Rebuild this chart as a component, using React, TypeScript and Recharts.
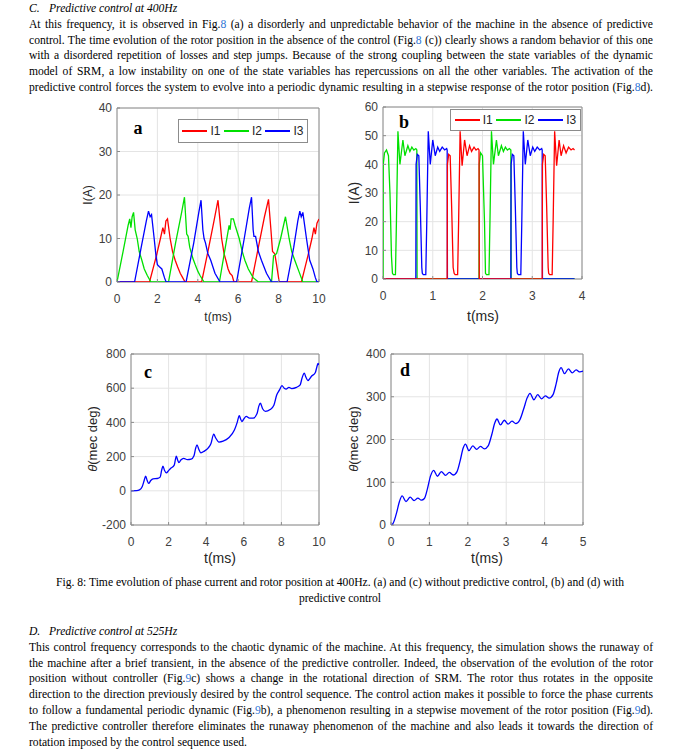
import React from 'react';
import { LineChart, Line, XAxis, YAxis, CartesianGrid, ReferenceArea } from 'recharts';

type Pt = [number, number];

// ---- Fig. 8 (a): phase currents, no predictive control ----
const aI1: Pt[] = [
  [0, 0], [1.61, 0], [1.95, 6], [2.15, 10], [2.27, 12.5], [2.35, 11], [2.42, 14], [2.5, 14.5], [2.63, 10],
  [2.75, 7], [2.88, 5], [3.0, 3.5], [3.13, 2], [3.25, 1], [3.37, 0], [4.19, 0], [4.5, 7], [4.8, 14],
  [5.0, 18.8], [5.1, 14], [5.18, 10], [5.3, 6.5], [5.39, 5], [5.5, 3], [5.59, 2], [5.7, 1.5], [5.79, 0],
  [6.66, 0], [7.0, 8], [7.3, 15], [7.5, 19], [7.62, 12], [7.7, 7], [7.81, 6.5], [7.9, 4], [8.03, 0],
  [9.13, 0], [9.45, 6], [9.65, 10], [9.75, 12.5], [9.82, 11], [9.9, 13.5], [10, 14.5],
];
const aI2: Pt[] = [
  [0, 0], [0.3, 7], [0.55, 13], [0.63, 14.5], [0.69, 12.5], [0.75, 15], [0.82, 16], [0.9, 12], [1.0, 10],
  [1.1, 7], [1.23, 5], [1.35, 3], [1.5, 1.5], [1.68, 0], [2.55, 0], [2.9, 9], [3.2, 16], [3.34, 19.5],
  [3.45, 11], [3.52, 10.5], [3.6, 8], [3.75, 5.5], [3.87, 4], [4.0, 2.5], [4.11, 1.5], [4.31, 0],
  [5.07, 0], [5.4, 9], [5.55, 13], [5.6, 12], [5.65, 14.5], [5.76, 14.5], [5.85, 13], [6.05, 10],
  [6.2, 7], [6.33, 5], [6.5, 3], [6.74, 1], [7.0, 0], [7.65, 0], [7.75, 6], [7.9, 6.5], [8.1, 10],
  [8.34, 15], [8.45, 12], [8.52, 10], [8.65, 7], [8.8, 5], [9.0, 2.5], [9.2, 0], [10, 0],
];
const aI3: Pt[] = [
  [0, 0], [0.87, 0], [1.2, 8], [1.45, 14], [1.56, 16.3], [1.64, 15], [1.71, 15.5], [1.84, 10], [1.93, 6],
  [2.0, 4], [2.1, 3.5], [2.22, 3], [2.35, 1], [2.43, 0], [3.42, 0], [3.8, 9], [4.05, 16], [4.16, 18.8],
  [4.25, 12], [4.31, 10], [4.38, 9], [4.5, 6.5], [4.64, 5], [4.85, 2], [5.1, 0], [5.92, 0], [6.3, 10],
  [6.55, 17], [6.66, 19.5], [6.74, 12], [6.78, 10.5], [6.86, 10.5], [7.0, 7], [7.15, 5], [7.4, 2],
  [7.65, 0], [8.42, 0], [8.75, 8], [8.95, 14], [9.05, 16.3], [9.12, 15], [9.2, 16], [9.38, 10],
  [9.54, 5], [9.62, 4], [9.7, 3], [9.82, 1], [9.9, 0], [10, 0],
];

// ---- Fig. 8 (b): phase currents, predictive control ----
const bI1: Pt[] = [
  [0, 0], [1.29, 0], [1.295, 40], [1.32, 43.5], [1.35, 43], [1.38, 25], [1.41, 4], [1.43, 2], [1.45, 1.5],
  [1.5, 1.5], [1.52, 20], [1.55, 51.5], [1.59, 39.5], [1.64, 48.5], [1.69, 43], [1.74, 46.5], [1.78, 44.5],
  [1.83, 46], [1.87, 45], [1.91, 45.5], [1.93, 45], [1.935, 0], [3.2, 0], [3.205, 40], [3.23, 43.5],
  [3.26, 43], [3.29, 25], [3.32, 4], [3.33, 2], [3.35, 1.5], [3.4, 1.5], [3.42, 20], [3.45, 51.5],
  [3.49, 39.5], [3.54, 48.5], [3.58, 43], [3.63, 46.5], [3.68, 44], [3.73, 46], [3.78, 45], [3.82, 45.5],
  [3.85, 45],
];
const bI2: Pt[] = [
  [0, 0], [0.005, 40], [0.03, 44], [0.07, 45], [0.11, 43], [0.14, 30], [0.17, 8], [0.19, 2], [0.21, 1.5],
  [0.25, 1.5], [0.27, 20], [0.3, 51.5], [0.34, 40], [0.4, 48.5], [0.44, 43], [0.5, 46.5], [0.54, 44.5],
  [0.58, 46], [0.62, 45], [0.66, 45.5], [0.68, 45], [0.685, 0], [1.93, 0], [1.935, 40], [1.96, 44],
  [2.0, 43], [2.04, 20], [2.06, 2], [2.08, 1.5], [2.13, 1.5], [2.15, 20], [2.18, 51.5], [2.22, 40],
  [2.28, 48.5], [2.32, 43], [2.38, 46.5], [2.42, 44.5], [2.46, 46], [2.5, 45], [2.54, 45.5], [2.57, 45],
  [2.575, 0], [3.85, 0],
];
const bI3: Pt[] = [
  [0, 0], [0.66, 0], [0.665, 40], [0.69, 43.5], [0.72, 43], [0.75, 25], [0.78, 4], [0.79, 2], [0.81, 1.5],
  [0.86, 1.5], [0.88, 20], [0.91, 51.5], [0.95, 40], [1.0, 48.5], [1.05, 43], [1.1, 46], [1.14, 44.5],
  [1.19, 46], [1.24, 45], [1.28, 45.5], [1.29, 45], [1.295, 0], [2.57, 0], [2.575, 40], [2.6, 43.5],
  [2.63, 43], [2.66, 25], [2.69, 4], [2.7, 2], [2.72, 1.5], [2.77, 1.5], [2.79, 20], [2.82, 51.5],
  [2.86, 40], [2.91, 48.5], [2.96, 43], [3.01, 46], [3.05, 44.5], [3.1, 46], [3.15, 45], [3.19, 45.5],
  [3.2, 45], [3.205, 0], [3.85, 0],
];

// ---- Fig. 8 (c): rotor position, no predictive control ----
const cTheta: Pt[] = [
  [0, 0], [0.3, 1], [0.45, 5], [0.6, 25], [0.7, 60], [0.78, 86], [0.86, 60], [0.94, 43], [1.05, 60],
  [1.17, 70], [1.4, 72], [1.55, 80], [1.63, 120], [1.7, 144], [1.78, 120], [1.88, 105], [2.0, 118],
  [2.1, 130], [2.3, 150], [2.41, 203], [2.48, 180], [2.55, 165], [2.65, 180], [2.8, 190], [3.0, 182],
  [3.2, 185], [3.35, 205], [3.43, 245], [3.51, 269], [3.6, 245], [3.72, 222], [3.9, 232], [4.1, 250],
  [4.25, 275], [4.4, 331], [4.5, 310], [4.68, 285], [4.9, 290], [5.2, 310], [5.5, 355], [5.65, 400],
  [5.76, 440], [5.83, 420], [5.9, 405], [6.0, 420], [6.13, 435], [6.3, 425], [6.5, 425], [6.7, 450],
  [6.8, 495], [6.88, 512], [7.0, 480], [7.15, 465], [7.4, 475], [7.6, 500], [7.75, 560], [7.9, 590],
  [8.03, 615], [8.15, 600], [8.25, 595], [8.4, 605], [8.55, 598], [8.8, 605], [9.0, 620], [9.1, 660],
  [9.22, 688], [9.3, 665], [9.41, 645], [9.6, 670], [9.8, 690], [9.9, 730], [9.95, 745], [10, 735],
];

// ---- Fig. 8 (d): rotor position, predictive control ----
const dTheta: Pt[] = [
  [0, 0], [0.05, 3], [0.15, 30], [0.22, 55], [0.29, 68], [0.39, 55], [0.5, 65], [0.6, 57], [0.7, 63],
  [0.79, 58], [0.87, 62], [0.95, 85], [1.03, 115], [1.11, 128], [1.21, 114], [1.31, 125], [1.42, 116],
  [1.52, 123], [1.62, 117], [1.72, 125], [1.8, 150], [1.88, 180], [1.94, 189], [2.03, 174], [2.13, 185],
  [2.23, 177], [2.33, 184], [2.43, 178], [2.53, 185], [2.62, 210], [2.7, 238], [2.76, 248], [2.85, 234],
  [2.95, 245], [3.05, 236], [3.15, 243], [3.25, 237], [3.35, 245], [3.45, 270], [3.55, 298], [3.62, 308],
  [3.72, 293], [3.82, 305], [3.92, 295], [4.02, 302], [4.12, 297], [4.22, 305], [4.3, 330], [4.37, 358],
  [4.43, 368], [4.52, 354], [4.62, 365], [4.72, 356], [4.82, 363], [4.92, 358], [5.0, 360],
];

const ticksA_x = [0, 2, 4, 6, 8, 10];
const ticksA_y = [0, 10, 20, 30, 40];
const ticksB_x = [0, 1, 2, 3, 4];
const ticksB_y = [0, 10, 20, 30, 40, 50, 60];
const ticksC_x = [0, 2, 4, 6, 8, 10];
const ticksC_y = [-200, 0, 200, 400, 600, 800];
const ticksD_x = [0, 1, 2, 3, 4, 5];
const ticksD_y = [0, 100, 200, 300, 400];

const phaseNames = ['I1', 'I2', 'I3'];
const RED = '#ff0000';
const GREEN = '#00e000';
const BLUE = '#0000ff';

const SERIF = '"Liberation Serif", "Times New Roman", serif';
const SANS = '"Liberation Sans", Arial, sans-serif';
const LINK = '#2e75d6';
const FRAME = '#8c8c8c';

const toRows = (pts: Pt[]) => pts.map(([t, v]) => ({ t, v }));

type Series = { name: string; color: string; pts: Pt[] };

const PAD_L = 50, PAD_T = 10, PAD_R = 10, PAD_B = 40;

function Panel(props: {
  left: number; top: number; w: number; h: number;
  xDomain: [number, number]; xTicks: number[];
  yDomain: [number, number]; yTicks: number[];
  series: Series[]; curve: 'linear' | 'monotone';
}) {
  const { left, top, w, h, xDomain, xTicks, yDomain, yTicks, series, curve } = props;
  const tickStyle = { fill: '#404040', fontSize: 12, fontFamily: SANS };
  return (
    <div style={{ position: 'absolute', left: left - PAD_L, top: top - PAD_T }}>
      <LineChart
        width={w + PAD_L + PAD_R}
        height={h + PAD_T + PAD_B}
        margin={{ top: PAD_T, right: PAD_R, left: 0, bottom: 0 }}
      >
        <CartesianGrid stroke="#e4e4e4" />
        <XAxis
          type="number" dataKey="t" domain={xDomain} ticks={xTicks} allowDataOverflow
          height={PAD_B} axisLine={false} tickSize={-3} tickMargin={15}
          tickLine={{ stroke: FRAME }} tick={tickStyle} interval={0}
        />
        <XAxis
          xAxisId="top" orientation="top" type="number" domain={xDomain} ticks={xTicks} allowDataOverflow
          height={0} axisLine={false} tickSize={-3} tickLine={{ stroke: FRAME }} tick={false} interval={0}
        />
        <YAxis
          type="number" dataKey="v" domain={yDomain} ticks={yTicks} allowDataOverflow
          width={PAD_L} axisLine={false} tickSize={-3} tickMargin={8}
          tickLine={{ stroke: FRAME }} tick={tickStyle} interval={0}
        />
        <YAxis
          yAxisId="right" orientation="right" type="number" domain={yDomain} ticks={yTicks} allowDataOverflow
          width={0} axisLine={false} tickSize={-3} tickLine={{ stroke: FRAME }} tick={false} interval={0}
        />
        <ReferenceArea
          x1={xDomain[0]} x2={xDomain[1]} y1={yDomain[0]} y2={yDomain[1]}
          fill="none" fillOpacity={0} stroke={FRAME} strokeOpacity={1} strokeWidth={1}
        />
        {series.map((s) => (
          <Line
            key={s.name} name={s.name} data={toRows(s.pts)} dataKey="v" type={curve}
            stroke={s.color} strokeWidth={1.3} dot={false} activeDot={false}
            isAnimationActive={false}
          />
        ))}
      </LineChart>
    </div>
  );
}

function PhaseLegend(props: { left: number; top: number; width: number; height: number; series: Series[] }) {
  const { left, top, width, height, series } = props;
  return (
    <div
      style={{
        position: 'absolute', left, top, width, height, boxSizing: 'border-box',
        border: `1px solid ${FRAME}`, background: '#fff', display: 'flex', alignItems: 'center',
        justifyContent: 'space-evenly', fontFamily: SANS, fontSize: 12, color: '#262626',
      }}
    >
      {series.map((s) => (
        <span key={s.name} style={{ display: 'flex', alignItems: 'center' }}>
          <span style={{ display: 'inline-block', width: 25, height: 1.5, background: s.color, marginRight: 3 }} />
          {s.name}
        </span>
      ))}
    </div>
  );
}

const abs = (left: number, top: number, extra: React.CSSProperties = {}): React.CSSProperties => ({
  position: 'absolute', left, top, ...extra,
});

function YTitle(props: { cx: number; cy: number; size: number; children: React.ReactNode }) {
  return (
    <div
      style={{
        position: 'absolute', left: props.cx, top: props.cy, transform: 'translate(-50%, -50%) rotate(-90deg)',
        whiteSpace: 'nowrap', fontFamily: SANS, fontSize: props.size, color: '#262626',
      }}
    >
      {props.children}
    </div>
  );
}

function XTitle(props: { cx: number; cy: number; size: number; children: React.ReactNode }) {
  return (
    <div
      style={{
        position: 'absolute', left: props.cx, top: props.cy, transform: 'translate(-50%, -50%)',
        whiteSpace: 'nowrap', fontFamily: SANS, fontSize: props.size, color: '#262626',
      }}
    >
      {props.children}
    </div>
  );
}

function PanelTag(props: { cx: number; cy: number; children: React.ReactNode }) {
  return (
    <div
      style={{
        position: 'absolute', left: props.cx, top: props.cy, transform: 'translate(-50%, -50%)',
        fontFamily: SERIF, fontWeight: 'bold', fontSize: 18, color: '#000',
      }}
    >
      {props.children}
    </div>
  );
}

const Ref = ({ n }: { n: string }) => <span style={{ color: LINK }}>{n}</span>;

const TEXT_LEFT = 29;
const TEXT_W = 624;
const LH = 15.8;
const FS = 11.6;

function Para(props: { top: number; lines: React.ReactNode[]; lastJustified?: boolean }) {
  return (
    <div style={abs(TEXT_LEFT, props.top, { width: TEXT_W, fontFamily: SERIF, fontSize: FS, lineHeight: `${LH}px`, color: '#000' })}>
      {props.lines.map((ln, i) => {
        const last = i === props.lines.length - 1 && !props.lastJustified;
        return (
          <div key={i} style={{ textAlign: last ? 'left' : 'justify', textAlignLast: last ? 'left' : 'justify', height: LH }}>
            {ln}
          </div>
        );
      })}
    </div>
  );
}

function Heading(props: { top: number; letter: string; title: string }) {
  return (
    <div style={abs(TEXT_LEFT, props.top, { fontFamily: SERIF, fontSize: FS, fontStyle: 'italic', lineHeight: `${LH}px`, whiteSpace: 'nowrap' })}>
      <span style={{ display: 'inline-block', width: 20 }}>{props.letter}</span>
      {props.title}
    </div>
  );
}

export default function App() {
  const seriesA: Series[] = [
    { name: phaseNames[0], color: RED, pts: aI1 },
    { name: phaseNames[1], color: GREEN, pts: aI2 },
    { name: phaseNames[2], color: BLUE, pts: aI3 },
  ];
  const seriesB: Series[] = [
    { name: phaseNames[1], color: GREEN, pts: bI2 },
    { name: phaseNames[2], color: BLUE, pts: bI3 },
    { name: phaseNames[0], color: RED, pts: bI1 },
  ];
  const legendB: Series[] = [seriesB[2], seriesB[0], seriesB[1]];
  const thetaLabel = (
    <span><span style={{ fontStyle: 'italic' }}>θ</span>(mec deg)</span>
  );

  return (
    <div style={{ position: 'absolute', left: 0, top: 0, width: 680, height: 754, background: '#fff', overflow: 'hidden' }}>
      <Heading top={1} letter="C." title="Predictive control at 400Hz" />
      <Para
        top={1 + LH}
        lines={[
          <>At this frequency, it is observed in Fig.<Ref n="8" /> (a) a disorderly and unpredictable behavior of the machine in the absence of predictive</>,
          <>control. The time evolution of the rotor position in the absence of the control (Fig.<Ref n="8" /> (c)) clearly shows a random behavior of this one</>,
          <>with a disordered repetition of losses and step jumps. Because of the strong coupling between the state variables of the dynamic</>,
          <>model of SRM, a low instability on one of the state variables has repercussions on all the other variables. The activation of the</>,
          <>predictive control forces the system to evolve into a periodic dynamic resulting in a stepwise response of the rotor position (Fig.<Ref n="8" />d).</>,
        ]}
        lastJustified
      />

      <Panel left={117} top={108} w={202} h={174} xDomain={[0, 10]} xTicks={ticksA_x} yDomain={[0, 40]} yTicks={ticksA_y} series={seriesA} curve="linear" />
      <Panel left={383} top={107} w={199} h={172} xDomain={[0, 4]} xTicks={ticksB_x} yDomain={[0, 60]} yTicks={ticksB_y} series={seriesB} curve="linear" />
      <Panel left={131} top={354} w={188} h={171} xDomain={[0, 10]} xTicks={ticksC_x} yDomain={[-200, 800]} yTicks={ticksC_y} series={[{ name: 'theta', color: BLUE, pts: cTheta }]} curve="monotone" />
      <Panel left={391} top={354} w={192} h={171} xDomain={[0, 5]} xTicks={ticksD_x} yDomain={[0, 400]} yTicks={ticksD_y} series={[{ name: 'theta', color: BLUE, pts: dTheta }]} curve="monotone" />

      <PhaseLegend left={178} top={119} width={130} height={24} series={seriesA} />
      <PhaseLegend left={450} top={109} width={131} height={22} series={legendB} />

      <PanelTag cx={138} cy={128}>a</PanelTag>
      <PanelTag cx={404} cy={122}>b</PanelTag>
      <PanelTag cx={148} cy={372}>c</PanelTag>
      <PanelTag cx={405} cy={370}>d</PanelTag>

      <YTitle cx={88} cy={195} size={12}>I(A)</YTitle>
      <XTitle cx={218} cy={317} size={12}>t(ms)</XTitle>
      <YTitle cx={354} cy={193} size={14}>I(A)</YTitle>
      <XTitle cx={483} cy={316} size={14}>t(ms)</XTitle>
      <YTitle cx={92} cy={439} size={13}>{thetaLabel}</YTitle>
      <XTitle cx={220} cy={558} size={14}>t(ms)</XTitle>
      <YTitle cx={353} cy={439} size={13}>{thetaLabel}</YTitle>
      <XTitle cx={487} cy={558} size={14}>t(ms)</XTitle>

      <div style={abs(0, 575, { width: 680, textAlign: 'center', fontFamily: SERIF, fontSize: FS, lineHeight: `${LH}px` })}>
        Fig. 8: Time evolution of phase current and rotor position at 400Hz. (a) and (c) without predictive control, (b) and (d) with
        <br />
        predictive control
      </div>

      <Heading top={624} letter="D." title="Predictive control at 525Hz" />
      <Para
        top={624 + LH}
        lines={[
          <>This control frequency corresponds to the chaotic dynamic of the machine. At this frequency, the simulation shows the runaway of</>,
          <>the machine after a brief transient, in the absence of the predictive controller. Indeed, the observation of the evolution of the rotor</>,
          <>position without controller (Fig.<Ref n="9" />c) shows a change in the rotational direction of SRM. The rotor thus rotates in the opposite</>,
          <>direction to the direction previously desired by the control sequence. The control action makes it possible to force the phase currents</>,
          <>to follow a fundamental periodic dynamic (Fig.<Ref n="9" />b), a phenomenon resulting in a stepwise movement of the rotor position (Fig.<Ref n="9" />d).</>,
          <>The predictive controller therefore eliminates the runaway phenomenon of the machine and also leads it towards the direction of</>,
          <>rotation imposed by the control sequence used.</>,
        ]}
      />
    </div>
  );
}
